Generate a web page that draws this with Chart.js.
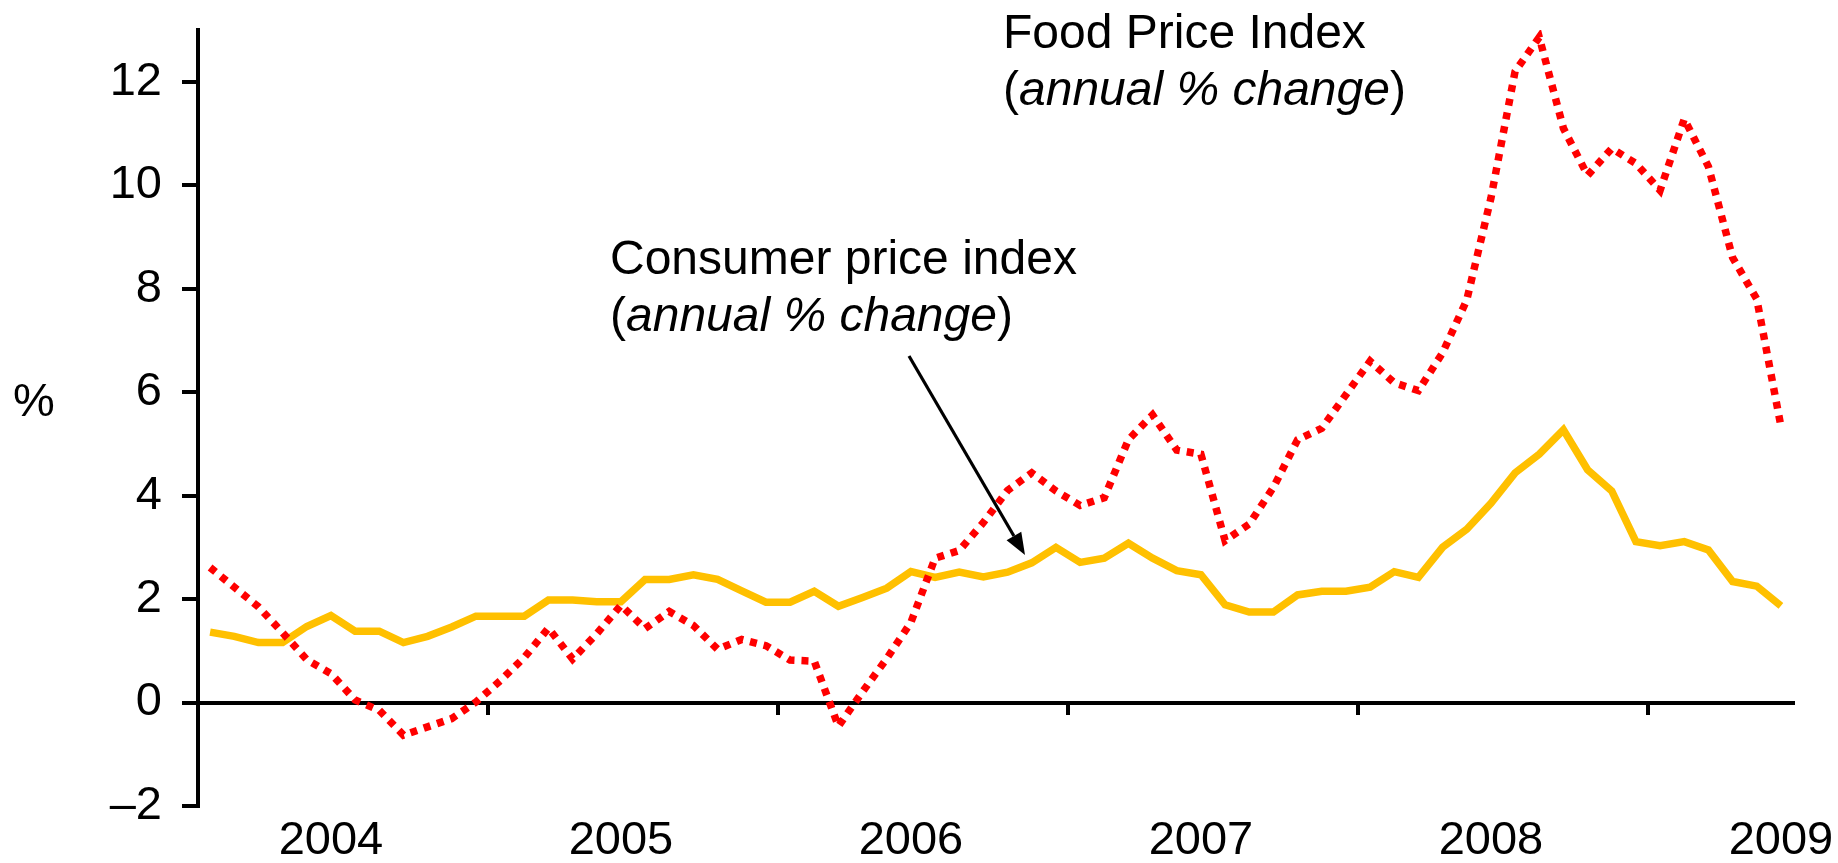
<!DOCTYPE html>
<html>
<head>
<meta charset="utf-8">
<script src="https://cdn.jsdelivr.net/npm/chart.js@4.4.1/dist/chart.umd.min.js"></script>
<style>
html,body{margin:0;padding:0;background:#ffffff;}
canvas{display:block;}
</style>
</head>
<body>
<canvas id="c" width="1838" height="863"></canvas>
<script>
// Monthly categories, Aug 2003 - Jan 2009
const months = [
  '2003-08','2003-09','2003-10','2003-11','2003-12',
  '2004-01','2004-02','2004-03','2004-04','2004-05','2004-06','2004-07','2004-08','2004-09','2004-10','2004-11','2004-12',
  '2005-01','2005-02','2005-03','2005-04','2005-05','2005-06','2005-07','2005-08','2005-09','2005-10','2005-11','2005-12',
  '2006-01','2006-02','2006-03','2006-04','2006-05','2006-06','2006-07','2006-08','2006-09','2006-10','2006-11','2006-12',
  '2007-01','2007-02','2007-03','2007-04','2007-05','2007-06','2007-07','2007-08','2007-09','2007-10','2007-11','2007-12',
  '2008-01','2008-02','2008-03','2008-04','2008-05','2008-06','2008-07','2008-08','2008-09','2008-10','2008-11','2008-12',
  '2009-01'
];

// Food Price Index (annual % change)
const food = [
  2.61, 2.23, 1.85, 1.35, 0.83,
  0.56, 0.05, -0.15, -0.63, -0.47, -0.31, 0.01, 0.42, 0.87, 1.44, 0.84, 1.33,
  1.88, 1.43, 1.76, 1.49, 1.03, 1.22, 1.10, 0.82, 0.80, -0.46, 0.21, 0.85,
  1.55, 2.79, 2.94, 3.48, 4.10, 4.44, 4.09, 3.81, 3.96, 5.08, 5.56, 4.88,
  4.80, 3.13, 3.45, 4.16, 5.08, 5.30, 5.95, 6.60, 6.18, 6.03, 6.76, 7.78,
  9.75, 12.20, 12.86, 11.10, 10.19, 10.71, 10.42, 9.90, 11.28, 10.36, 8.60, 7.80,
  5.34
];

// Consumer price index (annual % change)
const cpi = [
  1.36, 1.28, 1.16, 1.16, 1.47,
  1.68, 1.38, 1.38, 1.16, 1.28, 1.46, 1.67, 1.67, 1.67, 1.98, 1.98, 1.95,
  1.95, 2.38, 2.38, 2.47, 2.38, 2.16, 1.94, 1.94, 2.15, 1.86, 2.03, 2.21,
  2.53, 2.42, 2.52, 2.43, 2.52, 2.70, 3.00, 2.71, 2.79, 3.08, 2.79, 2.55,
  2.47, 1.89, 1.75, 1.75, 2.08, 2.15, 2.15, 2.23, 2.53, 2.42, 3.00, 3.35,
  3.85, 4.44, 4.80, 5.27, 4.50, 4.09, 3.11, 3.03, 3.11, 2.95, 2.34, 2.25,
  1.87
];

// Y-axis tick values
const yTicks = [-2, 0, 2, 4, 6, 8, 10, 12];

const FAMILY = '"Liberation Sans", Arial, Helvetica, sans-serif';

function yearLabel(i) {
  const m = months[i];
  return (m && m.endsWith('-01')) ? m.slice(0, 4) : '';
}

function drawTwoPart(ctx, x, y) {
  const n = '48px ' + FAMILY;
  const it = 'italic 48px ' + FAMILY;
  ctx.font = n; ctx.fillText('(', x, y); x += ctx.measureText('(').width;
  ctx.font = it; ctx.fillText('annual % change', x, y); x += ctx.measureText('annual % change').width;
  ctx.font = n; ctx.fillText(')', x, y);
}

const annotations = {
  id: 'annotations',
  afterDraw(chart) {
    const ctx = chart.ctx;
    ctx.save();
    ctx.fillStyle = '#000';
    ctx.textAlign = 'left';
    ctx.textBaseline = 'alphabetic';

    // axis unit
    ctx.font = '47px ' + FAMILY;
    ctx.fillText('%', 13, 416);

    // Food price index label
    ctx.font = '48px ' + FAMILY;
    ctx.fillText('Food Price Index', 1003, 48);
    drawTwoPart(ctx, 1003, 105);

    // CPI label
    ctx.font = '48px ' + FAMILY;
    ctx.fillText('Consumer price index', 610, 274);
    drawTwoPart(ctx, 610, 331);

    // arrow
    const x1 = 909, y1 = 356, x2 = 1025, y2 = 555;
    const ang = Math.atan2(y2 - y1, x2 - x1);
    const hl = 22, hw = 8.5;
    const bx = x2 - hl * Math.cos(ang), by = y2 - hl * Math.sin(ang);
    ctx.strokeStyle = '#000';
    ctx.lineWidth = 3.2;
    ctx.beginPath();
    ctx.moveTo(x1, y1);
    ctx.lineTo(bx, by);
    ctx.stroke();
    ctx.beginPath();
    ctx.moveTo(x2, y2);
    ctx.lineTo(bx + hw * Math.sin(ang), by - hw * Math.cos(ang));
    ctx.lineTo(bx - hw * Math.sin(ang), by + hw * Math.cos(ang));
    ctx.closePath();
    ctx.fill();
    ctx.restore();
  }
};

new Chart(document.getElementById('c'), {
  type: 'line',
  data: {
    labels: months,
    datasets: [
      {
        label: 'Food Price Index (annual % change)',
        data: food,
        borderColor: '#FF0000',
        borderWidth: 7.5,
        borderDash: [7, 7],
        borderCapStyle: 'butt',
        borderJoinStyle: 'miter',
        pointRadius: 0,
        tension: 0,
        fill: false,
        xAxisID: 'x',
        yAxisID: 'y'
      },
      {
        label: 'Consumer price index (annual % change)',
        data: cpi,
        borderColor: '#FFC000',
        borderWidth: 7.5,
        borderJoinStyle: 'miter',
        pointRadius: 0,
        tension: 0,
        fill: false,
        xAxisID: 'x',
        yAxisID: 'y'
      }
    ]
  },
  options: {
    responsive: false,
    animation: false,
    devicePixelRatio: 1,
    events: [],
    layout: { padding: { left: 0, top: 30, right: 45, bottom: 0 } },
    plugins: {
      legend: { display: false },
      tooltip: { enabled: false },
      title: { display: false }
    },
    scales: {
      x: {
        type: 'category',
        position: 'bottom',
        offset: true,
        grid: { display: false, drawTicks: false },
        border: { display: false },
        ticks: {
          autoSkip: false,
          maxRotation: 0,
          minRotation: 0,
          padding: 7,
          color: '#000',
          font: { family: FAMILY, size: 47 },
          callback: (v, i) => yearLabel(i)
        },
        afterFit: s => { s.height = 57; s.paddingLeft = 0; s.paddingRight = 0; }
      },
      x0: {
        type: 'category',
        axis: 'x',
        position: { y: 0 },
        offset: true,
        grid: {
          display: true,
          offset: true,
          drawOnChartArea: false,
          drawTicks: true,
          tickLength: 10,
          lineWidth: 4,
          color: ctx => (ctx.index > 0 && ctx.index % 12 === 0) ? '#000' : 'rgba(0,0,0,0)'
        },
        border: { display: true, color: '#000', width: 4 },
        ticks: { display: false },
        afterFit: s => { s.paddingLeft = 0; s.paddingRight = 0; }
      },
      y: {
        type: 'linear',
        position: 'left',
        min: -2,
        max: 13,
        grid: { drawOnChartArea: false, drawTicks: true, tickLength: 16, lineWidth: 4, color: '#000' },
        border: { display: true, color: '#000', width: 4 },
        ticks: {
          padding: 20,
          color: '#000',
          font: { family: FAMILY, size: 47 },
          callback: v => v < 0 ? '\u2013' + Math.abs(v) : String(v)
        },
        afterBuildTicks: s => { s.ticks = yTicks.map(v => ({ value: v })); },
        afterFit: s => { s.width = 198; s.paddingTop = 0; s.paddingBottom = 0; }
      }
    }
  },
  plugins: [annotations]
});
</script>
</body>
</html>
